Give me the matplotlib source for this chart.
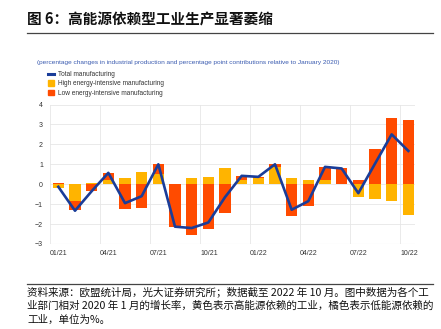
import numpy as np
import matplotlib
matplotlib.use('Agg')
import matplotlib.pyplot as plt
from matplotlib.lines import Line2D
from matplotlib.patches import Patch

plt.rcParams['font.family'] = ['Liberation Sans', 'DejaVu Sans']

# monthly data, 01/21 .. 10/22
months = ['01/21', '02/21', '03/21', '04/21', '05/21', '06/21', '07/21', '08/21',
          '09/21', '10/21', '11/21', '12/21', '01/22', '02/22', '03/22', '04/22',
          '05/22', '06/22', '07/22', '08/22', '09/22', '10/22']
high_energy = [-0.2, -0.85, 0.05, 0.2, 0.3, 0.6, 0.5, 0.0, 0.3, 0.35, 0.8, 0.23,
               0.33, 0.85, 0.3, 0.22, 0.23, 0.0, -0.65, -0.72, -0.83, -1.53]
low_energy = [0.07, -0.45, -0.35, 0.37, -1.25, -1.17, 0.5, -2.13, -2.53, -2.27, -1.45, 0.2,
              0.04, 0.15, -1.58, -1.07, 0.62, 0.79, 0.2, 1.75, 3.33, 3.2]
total = [-0.13, -1.33, -0.35, 0.57, -0.95, -0.6, 1.0, -2.13, -2.2, -1.92, -0.65, 0.42,
         0.37, 1.0, -1.28, -0.85, 0.87, 0.79, -0.45, 1.03, 2.5, 1.67]
xtick_labels = ['01/21', '04/21', '07/21', '10/21', '01/22', '04/22', '07/22', '10/22']

c_high = '#ffb400'
c_low = '#ff4b00'
c_total = '#1a3d99'

hi = np.array(high_energy)
lo = np.array(low_energy)
# stack: each component starts from 0 on its own side, or on top of the other if same sign
lo_bottom = np.where(np.sign(lo) == np.sign(hi), hi, 0.0)
x = np.arange(len(months)) + 0.5

fig = plt.figure(figsize=(4.41, 3.29), dpi=100)
ax = fig.add_axes([50/441, 1 - 244/329, 365/441, 139.5/329])

ax.bar(x, hi, width=0.68, color=c_high, zorder=2)
ax.bar(x, lo, width=0.68, bottom=lo_bottom, color=c_low, zorder=2)
ax.plot(x, total, color=c_total, lw=1.9, zorder=3)

ax.set_xlim(0, 21.9)
ax.set_ylim(-3, 4)
ax.set_yticks(range(-3, 5))
ax.set_xticks(range(0, 22, 3))
ax.set_xticklabels(xtick_labels, ha='left')
ax.tick_params(axis='both', length=0, labelsize=5, colors='#333333')
ax.tick_params(axis='x', pad=4)
ax.tick_params(axis='y', pad=5)
ax.grid(True, color='#e6e6e6', lw=0.6, zorder=0)
ax.set_axisbelow(True)
for s in ax.spines.values():
    s.set_visible(False)
ax.axhline(-3, color='#e0e0e0', lw=0.8, zorder=1)

# title and rules
cjk = ['Noto Sans CJK SC', 'DejaVu Sans']
fig.text(27/441, 1 - 20/329, '图 6：高能源依赖型工业生产显著萎缩', family=cjk,
         fontsize=10.5, fontweight='bold', va='center', ha='left', color='#111111')
fig.add_artist(Line2D([27/441, 433/441], [1 - 32.5/329, 1 - 32.5/329],
                      color='#444444', lw=0.9))

fig.text(37/441, 1 - 62.5/329,
         '(percentage changes in industrial production and percentage point contributions relative to January 2020)',
         fontsize=4.65, color='#3a5bb0', va='center', ha='left')

handles = [Line2D([0], [0], color=c_total, lw=2.2),
           Patch(color=c_high), Patch(color=c_low)]
labels = ['Total manufacturing', 'High energy-intensive manufacturing',
          'Low energy-intensive manufacturing']
fig.legend(handles, labels, loc='upper left', bbox_to_anchor=(48/441, 1 - 71/329),
           frameon=False, fontsize=4.7, handlelength=0.95, handleheight=1.0,
           labelspacing=0.33, handletextpad=0.65, borderpad=0, borderaxespad=0,
           labelcolor='#333333')

fig.add_artist(Line2D([27/441, 433/441], [1 - 284/329, 1 - 284/329],
                      color='#444444', lw=0.9))
footer = ['资料来源：欧盟统计局，光大证券研究所；数据截至 2022 年 10 月。图中数据为各个工',
          '业部门相对 2020 年 1 月的增长率，黄色表示高能源依赖的工业，橘色表示低能源依赖的',
          '工业，单位为%。']
for i, line in enumerate(footer):
    fig.text(27/441, 1 - (292 + 14 * i)/329, line, family=cjk, fontsize=7.6,
             va='center', ha='left', color='#111111')

fig.savefig('out.png', dpi=100)
